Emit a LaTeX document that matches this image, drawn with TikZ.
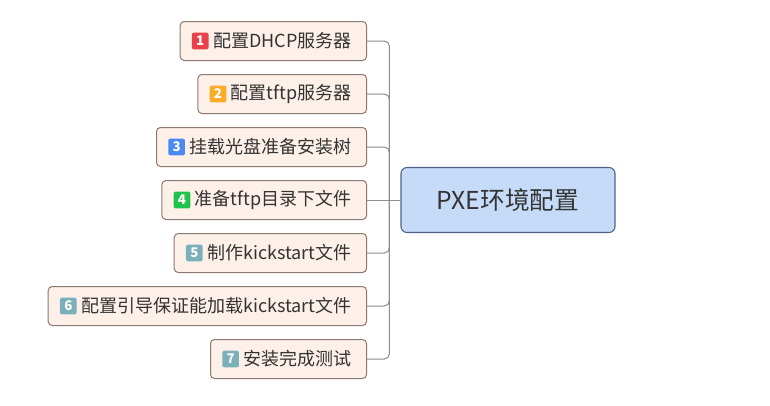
\documentclass[tikz,border=0pt]{standalone}
\usepackage{fontspec}
\setmainfont{Noto Sans CJK SC}
\usetikzlibrary{positioning}
\definecolor{rootfill}{HTML}{C6DBF8}
\definecolor{rootline}{HTML}{4F5F86}
\definecolor{taskfill}{HTML}{FDF0E9}
\definecolor{taskline}{HTML}{8A7A72}
\definecolor{linkgray}{HTML}{8C8C8C}
\definecolor{txtgray}{HTML}{333333}
\definecolor{bred}{HTML}{E8414B}
\definecolor{borange}{HTML}{FBAC28}
\definecolor{bblue}{HTML}{4A88F5}
\definecolor{bgreen}{HTML}{20C24E}
\definecolor{bteal}{HTML}{7BAFB9}

\begin{document}
\begin{tikzpicture}[
  x=0.75pt, y=0.75pt,
  root/.style={draw=rootline, fill=rootfill, line width=0.8pt, rounded corners=4.5pt,
    minimum width=160.5pt, minimum height=48.75pt, text=txtgray,
    font=\fontsize{18.5}{20}\selectfont},
  task/.style={draw=taskline, fill=taskfill, line width=0.75pt, rounded corners=3pt,
    minimum height=29.25pt, inner xsep=11.25pt, text=txtgray, anchor=east,
    font=\fontsize{13.5}{15}\selectfont},
  badge/.style={minimum size=12.5pt, inner sep=0pt, rounded corners=1.5pt, text=white,
    font=\fontsize{10}{11}\selectfont\bfseries},
  link/.style={linkgray, line width=0.75pt}
]

% Canvas
\useasboundingbox (0,0) rectangle (770,405);

% ── Central topic ──
\node[root] (root) at (508,205) {PXE环境配置};
\coordinate[left=8.25pt of root.west] (hub);

% ── Sub topics ──
\node[task] (t1) at (367,364) {\hspace{13.5pt}配置DHCP服务器};
\node[task] (t2) at (367,311) {\hspace{13.5pt}配置tftp服务器};
\node[task] (t3) at (367,258) {\hspace{13.5pt}挂载光盘准备安装树};
\node[task] (t4) at (367,205) {\hspace{13.5pt}准备tftp目录下文件};
\node[task] (t5) at (367,152) {\hspace{13.5pt}制作kickstart文件};
\node[task] (t6) at (367,99) {\hspace{13.5pt}配置引导保证能加载kickstart文件};
\node[task] (t7) at (367,46) {\hspace{13.5pt}安装完成测试};

% ── Number badges ──
\node[badge, fill=bred, right=9pt of t1.west] (b1) {1};
\node[badge, fill=borange, right=9pt of t2.west] (b2) {2};
\node[badge, fill=bblue, right=9pt of t3.west] (b3) {3};
\node[badge, fill=bgreen, right=9pt of t4.west] (b4) {4};
\node[badge, fill=bteal, right=9pt of t5.west] (b5) {5};
\node[badge, fill=bteal, right=9pt of t6.west] (b6) {6};
\node[badge, fill=bteal, right=9pt of t7.west] (b7) {7};

% ── Connectors ──
\draw[link] (hub) -- (root.west);
\draw[link, rounded corners=4pt] (t1.east) -| (hub);
\draw[link, rounded corners=4pt] (t2.east) -| (hub);
\draw[link, rounded corners=4pt] (t3.east) -| (hub);
\draw[link] (t4.east) -- (hub);
\draw[link, rounded corners=4pt] (t5.east) -| (hub);
\draw[link, rounded corners=4pt] (t6.east) -| (hub);
\draw[link, rounded corners=4pt] (t7.east) -| (hub);

\end{tikzpicture}
\end{document}
